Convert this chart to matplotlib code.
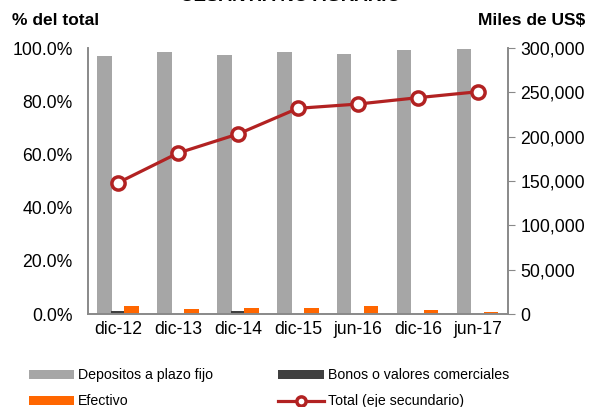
import numpy as np
import matplotlib
matplotlib.use("Agg")
import matplotlib.pyplot as plt

plt.rcParams['font.family'] = ['Liberation Sans', 'DejaVu Sans']

periodos = ["dic-12", "dic-13", "dic-14", "dic-15", "jun-16", "dic-16", "jun-17"]
depositos = [97.1, 98.6, 97.5, 98.4, 97.7, 99.4, 99.8]
bonos = [1.0, 0.0, 1.0, 0.0, 0.0, 0.0, 0.0]
efectivo = [2.9, 2.0, 2.4, 2.4, 3.1, 1.4, 0.9]
total = [148000, 181500, 203000, 232000, 236800, 244000, 250700]

def main():
    fig = plt.figure(figsize=(5.92, 4.07), dpi=100)
    ax = fig.add_axes([0.1486, 0.2285, 0.7094, 0.6535])
    ax2 = ax.twinx()

    x = np.arange(len(periodos))
    w = 0.235
    b1 = ax.bar(x - 0.225, depositos, w, color="#A6A6A6", label="Depositos a plazo fijo")
    b2 = ax.bar(x, bonos, w, color="#404040", label="Bonos o valores comerciales")
    b3 = ax.bar(x + 0.225, efectivo, w, color="#FF6600", label="Efectivo")
    l1, = ax2.plot(x, total, color="#B22222", lw=2.3, marker="o", ms=9.5,
                   mfc="white", mec="#B22222", mew=2.5, label="Total (eje secundario)")

    ax.set_xlim(-0.5, len(periodos) - 0.5)
    ax.set_ylim(0, 100)
    ax2.set_ylim(0, 300000)
    ax.set_yticks(np.arange(0, 101, 20))
    ax.set_yticklabels([f"{v:.1f}%" for v in np.arange(0, 101, 20)], fontsize=12.7)
    ax2.set_yticks(np.arange(0, 300001, 50000))
    ax2.set_yticklabels([f"{v:,}" for v in range(0, 300001, 50000)], fontsize=12.7)
    ax.set_xticks(x)
    ax.set_xticklabels(periodos, fontsize=12.7)

    for a in (ax, ax2):
        a.spines["top"].set_visible(False)
        for s in ("left", "right", "bottom"):
            a.spines[s].set_color("#898989")
            a.spines[s].set_linewidth(1.2)
    ax.tick_params(axis="y", length=0, pad=11)
    ax.tick_params(axis="x", length=0, pad=5)
    ax2.tick_params(axis="y", length=5, color="#898989", pad=4)

    fig.text(0.02, 0.95, "% del total", fontsize=12.5, fontweight="bold", ha="left", va="center")
    fig.text(0.988, 0.95, "Miles de US$", fontsize=12.5, fontweight="bold", ha="right", va="center")
    fig.text(0.49, 1 - 1 / 407, "CESANTÍA NO AGRARIO", fontsize=13.5, fontweight="bold",
             ha="center", va="baseline")

    fig.legend([b1, b3, b2, l1],
               [b1.get_label(), b3.get_label(), b2.get_label(), l1.get_label()],
               ncol=2, loc="lower left", bbox_to_anchor=(0.027, -0.035),
               frameon=False, fontsize=10.2, handlelength=3.2, handleheight=0.55,
               columnspacing=4.6, labelspacing=0.85, handletextpad=0.3,
               markerscale=0.7)

    fig.savefig("out.png", dpi=100)

if __name__ == "__main__":
    main()
